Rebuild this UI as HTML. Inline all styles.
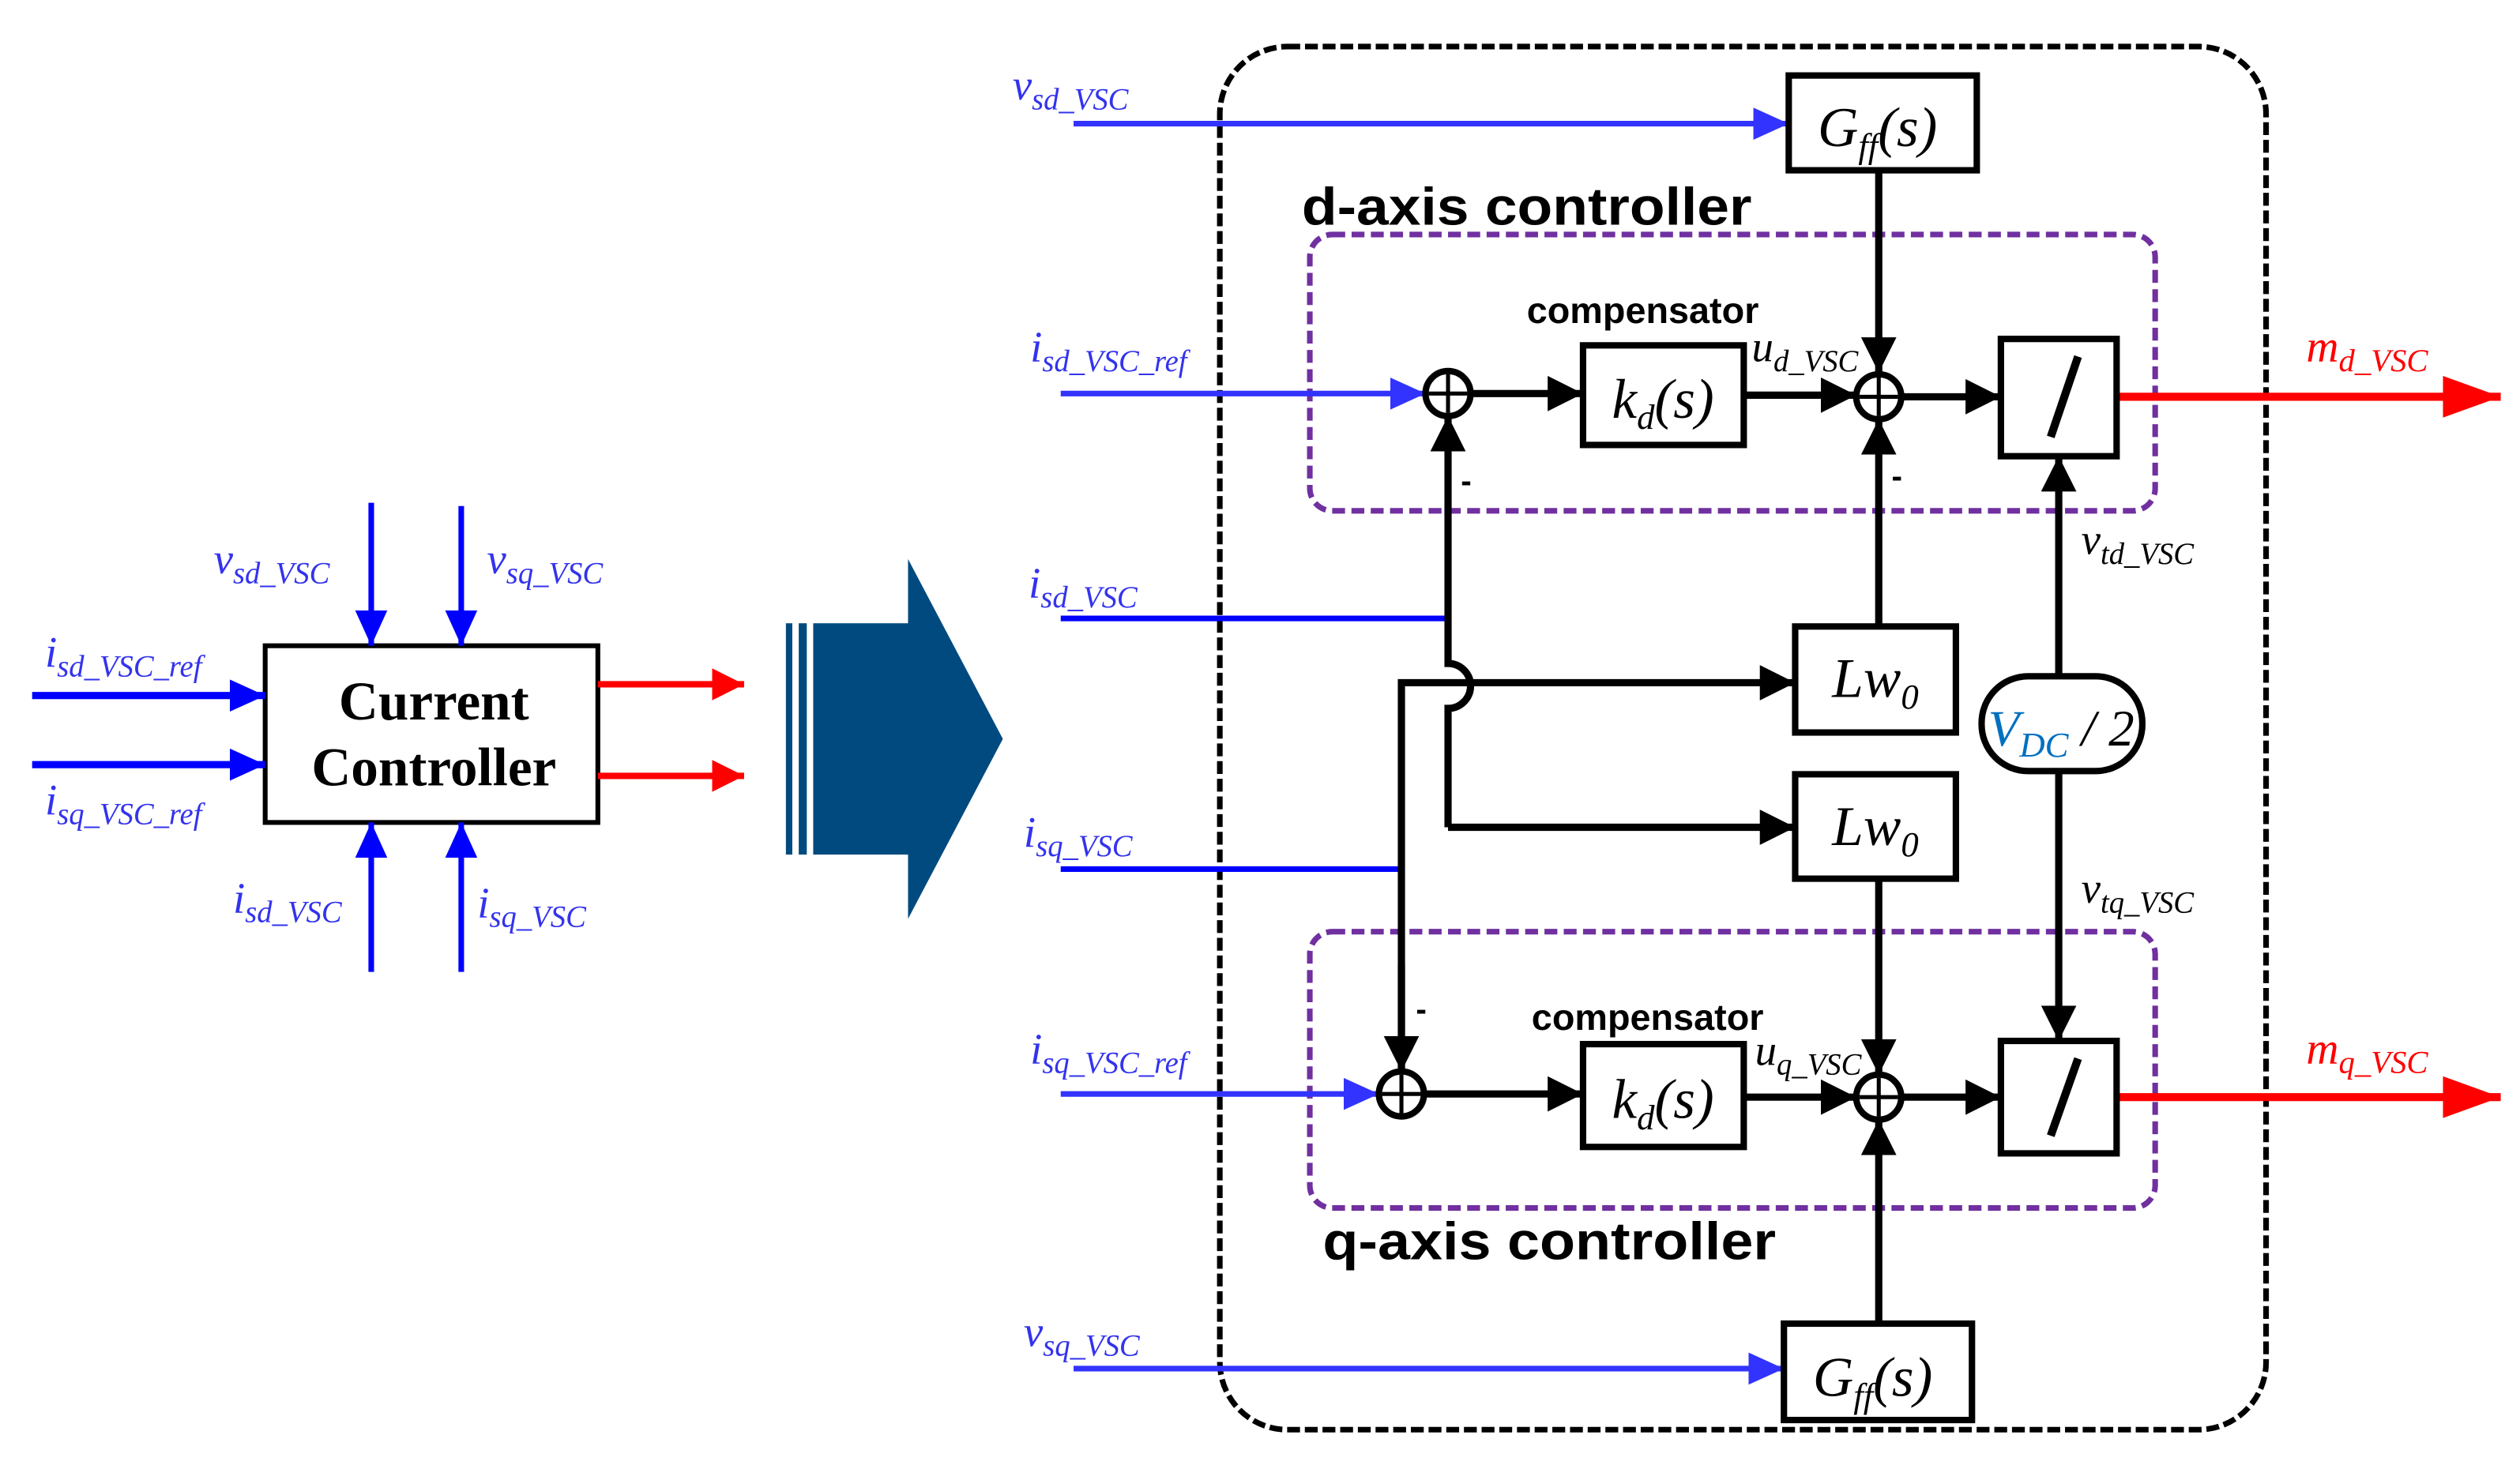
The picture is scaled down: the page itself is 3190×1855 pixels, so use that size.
<!DOCTYPE html>
<html><head><meta charset="utf-8"><style>
html,body{margin:0;padding:0;background:#fff;}
svg{display:block;}
.it{font-family:"Liberation Serif",serif;font-style:italic;}
.sans{font-family:"Liberation Sans","Noto Sans CJK KR",sans-serif;}
</style></head><body>
<svg width="3190" height="1855" viewBox="0 0 1568 912" preserveAspectRatio="none" xmlns="http://www.w3.org/2000/svg">
<defs>
<marker id="ak" markerUnits="userSpaceOnUse" markerWidth="24" markerHeight="24" refX="22" refY="11" orient="auto"><path d="M0,0 L22,11 L0,22 Z" fill="#000"/></marker>
<marker id="ab" markerUnits="userSpaceOnUse" markerWidth="24" markerHeight="24" refX="22" refY="10" orient="auto"><path d="M0,0 L22,10 L0,20 Z" fill="#3333ff"/></marker>
<marker id="ab2" markerUnits="userSpaceOnUse" markerWidth="24" markerHeight="24" refX="22" refY="10" orient="auto"><path d="M0,0 L22,10 L0,20 Z" fill="#0000ff"/></marker>
<marker id="ar" markerUnits="userSpaceOnUse" markerWidth="40" markerHeight="30" refX="36" refY="13" orient="auto"><path d="M0,0 L36,13 L0,26 Z" fill="#ff0000"/></marker>
<marker id="ar2" markerUnits="userSpaceOnUse" markerWidth="24" markerHeight="24" refX="20" refY="10" orient="auto"><path d="M0,0 L20,10 L0,20 Z" fill="#ff0000"/></marker>
</defs>

<!-- LEFT BLOCK -->
<rect x="165" y="402" width="207" height="110" fill="#fff" stroke="#000" stroke-width="3"/>
<text x="270" y="448" text-anchor="middle" font-family="Liberation Serif,serif" font-weight="bold" font-size="34">Current</text>
<text x="270" y="489" text-anchor="middle" font-family="Liberation Serif,serif" font-weight="bold" font-size="34">Controller</text>
<g stroke="#0000ff" stroke-width="3.5" fill="none">
<line x1="231" y1="313" x2="231" y2="402" marker-end="url(#ab2)"/>
<line x1="287" y1="315" x2="287" y2="402" marker-end="url(#ab2)"/>
<line x1="231" y1="605" x2="231" y2="512" marker-end="url(#ab2)"/>
<line x1="287" y1="605" x2="287" y2="512" marker-end="url(#ab2)"/>
<line x1="20" y1="433" x2="165" y2="433" marker-end="url(#ab2)" stroke-width="4.5"/>
<line x1="20" y1="476" x2="165" y2="476" marker-end="url(#ab2)" stroke-width="4.5"/>
</g>
<g stroke="#ff0000" stroke-width="4" fill="none">
<line x1="372" y1="426" x2="463" y2="426" marker-end="url(#ar2)"/>
<line x1="372" y1="483" x2="463" y2="483" marker-end="url(#ar2)"/>
</g>
<g class="it" fill="#3333ee">
<text x="133" y="357" font-size="27">v<tspan font-size="19" dy="6">sd_VSC</tspan></text>
<text x="303" y="357" font-size="27">v<tspan font-size="19" dy="6">sq_VSC</tspan></text>
<text x="28" y="415" font-size="27">i<tspan font-size="19" dy="6">sd_VSC_ref</tspan></text>
<text x="28" y="507" font-size="27">i<tspan font-size="19" dy="6">sq_VSC_ref</tspan></text>
<text x="145" y="568" font-size="27">i<tspan font-size="19" dy="6">sd_VSC</tspan></text>
<text x="297" y="571" font-size="27">i<tspan font-size="19" dy="6">sq_VSC</tspan></text>
</g>

<!-- BIG ARROW -->
<g fill="#004a7f">
<rect x="489" y="388" width="4" height="144"/>
<rect x="497" y="388" width="5" height="144"/>
<rect x="506" y="388" width="60" height="144"/>
<path d="M565,348 L624,460 L565,572 Z"/>
</g>

<!-- OUTER DASHED -->
<rect x="759" y="29" width="651" height="861" rx="42" fill="none" stroke="#000" stroke-width="3.5" stroke-dasharray="8,3"/>
<!-- PURPLE -->
<rect x="815" y="146" width="526" height="172" rx="14" fill="none" stroke="#7030a0" stroke-width="3.5" stroke-dasharray="8,4"/>
<rect x="815" y="580" width="526" height="172" rx="14" fill="none" stroke="#7030a0" stroke-width="3.5" stroke-dasharray="8,4"/>

<g class="sans" fill="#000">
<text x="810" y="140" font-size="33" font-weight="bold" textLength="280" lengthAdjust="spacingAndGlyphs">d-axis controller</text>
<text x="823" y="784" font-size="33" font-weight="bold" textLength="282" lengthAdjust="spacingAndGlyphs">q-axis controller</text>
<text x="950" y="201" font-size="23" font-weight="bold">compensator</text>
<text x="953" y="641" font-size="23" font-weight="bold">compensator</text>
<text x="909" y="306" font-size="20" font-weight="bold">-</text>
<text x="1177" y="303" font-size="20" font-weight="bold">-</text>
<text x="881" y="635" font-size="20" font-weight="bold">-</text>
</g>

<!-- blue inputs -->
<g stroke="#3333ff" stroke-width="3.5" fill="none">
<line x1="668" y1="77" x2="1113" y2="77" marker-end="url(#ab)"/>
<line x1="660" y1="245" x2="887" y2="245" marker-end="url(#ab)"/>
<line x1="660" y1="681" x2="858" y2="681" marker-end="url(#ab)"/>
<line x1="668" y1="852" x2="1110" y2="852" marker-end="url(#ab)"/>
</g>
<g stroke="#0000ff" stroke-width="3.5" fill="none">
<line x1="660" y1="385" x2="901" y2="385"/>
<line x1="660" y1="541" x2="872" y2="541"/>
</g>

<!-- black connectors -->
<g stroke="#000" stroke-width="4.5" fill="none">
<line x1="1169" y1="106" x2="1169" y2="232" marker-end="url(#ak)"/>
<line x1="915" y1="245" x2="985" y2="245" marker-end="url(#ak)"/>
<line x1="1085" y1="246" x2="1155" y2="246" marker-end="url(#ak)"/>
<line x1="1183" y1="247" x2="1245" y2="247" marker-end="url(#ak)"/>
<path d="M901,515 L901,441 A14,14 0 0 0 901,413 L901,259" marker-end="url(#ak)"/>
<line x1="901" y1="515" x2="1117" y2="515" marker-end="url(#ak)"/>
<line x1="1169" y1="390" x2="1169" y2="261" marker-end="url(#ak)"/>
<path d="M872,667 L872,425 L1117,425" marker-end="url(#ak)"/>
<line x1="872" y1="600" x2="872" y2="667" marker-end="url(#ak)"/>
<line x1="1169" y1="547" x2="1169" y2="669" marker-end="url(#ak)"/>
<line x1="1281" y1="421" x2="1281" y2="284" marker-end="url(#ak)"/>
<line x1="1281" y1="480" x2="1281" y2="648" marker-end="url(#ak)"/>
<line x1="886" y1="681" x2="985" y2="681" marker-end="url(#ak)"/>
<line x1="1085" y1="683" x2="1155" y2="683" marker-end="url(#ak)"/>
<line x1="1183" y1="683" x2="1245" y2="683" marker-end="url(#ak)"/>
<line x1="1169" y1="824" x2="1169" y2="697" marker-end="url(#ak)"/>
</g>
<!-- red outputs -->
<g stroke="#ff0000" stroke-width="5" fill="none">
<line x1="1317" y1="247" x2="1556" y2="247" marker-end="url(#ar)"/>
<line x1="1317" y1="683" x2="1556" y2="683" marker-end="url(#ar)"/>
</g>

<!-- boxes -->
<g fill="#fff" stroke="#000" stroke-width="4">
<rect x="1113" y="47" width="117" height="59"/>
<rect x="985" y="215" width="100" height="62"/>
<rect x="1245" y="211" width="72" height="73"/>
<rect x="1117" y="390" width="100" height="66"/>
<rect x="1117" y="482" width="100" height="65"/>
<rect x="1233" y="421" width="100" height="59" rx="29"/>
<rect x="985" y="650" width="100" height="64"/>
<rect x="1245" y="648" width="72" height="70"/>
<rect x="1110" y="824" width="117" height="60"/>
<circle cx="901" cy="245" r="14"/>
<circle cx="1169" cy="247" r="14"/>
<circle cx="872" cy="681" r="14"/>
<circle cx="1169" cy="683" r="14"/>
</g>
<g stroke="#000" stroke-width="2.5">
<path d="M889,245 H913 M901,233 V257"/>
<path d="M1157,247 H1181 M1169,235 V259"/>
<path d="M860,681 H884 M872,669 V693"/>
<path d="M1157,683 H1181 M1169,671 V695"/>
</g>
<g stroke="#000" stroke-width="5">
<line x1="1293" y1="222" x2="1276" y2="272"/>
<line x1="1293" y1="659" x2="1276" y2="707"/>
</g>

<g class="it" fill="#000">
<text x="1131" y="91" font-size="35">G<tspan font-size="22" dy="7">ff</tspan><tspan dy="-7">(s)</tspan></text>
<text x="1128" y="869" font-size="35">G<tspan font-size="22" dy="7">ff</tspan><tspan dy="-7">(s)</tspan></text>
<text x="1003" y="260" font-size="35">k<tspan font-size="22" dy="7">d</tspan><tspan dy="-7">(s)</tspan></text>
<text x="1003" y="696" font-size="35">k<tspan font-size="22" dy="7">d</tspan><tspan dy="-7">(s)</tspan></text>
<text x="1140" y="434" font-size="35">Lw<tspan font-size="22" dy="7">0</tspan></text>
<text x="1140" y="526" font-size="35">Lw<tspan font-size="22" dy="7">0</tspan></text>
<text x="1237" y="464" font-size="32"><tspan fill="#0070c0">V</tspan><tspan fill="#0070c0" font-size="22" dy="7">DC</tspan><tspan dy="-7"> / 2</tspan></text>
<text x="1090" y="225" font-size="27">u<tspan font-size="19" dy="6">d_VSC</tspan></text>
<text x="1092" y="663" font-size="27">u<tspan font-size="19" dy="6">q_VSC</tspan></text>
<text x="1295" y="345" font-size="27">v<tspan font-size="19" dy="6">td_VSC</tspan></text>
<text x="1295" y="562" font-size="27">v<tspan font-size="19" dy="6">tq_VSC</tspan></text>
</g>
<g class="it" fill="#3333ee">
<text x="630" y="62" font-size="27">v<tspan font-size="19" dy="6">sd_VSC</tspan></text>
<text x="641" y="225" font-size="27">i<tspan font-size="19" dy="6">sd_VSC_ref</tspan></text>
<text x="640" y="372" font-size="27">i<tspan font-size="19" dy="6">sd_VSC</tspan></text>
<text x="637" y="527" font-size="27">i<tspan font-size="19" dy="6">sq_VSC</tspan></text>
<text x="641" y="662" font-size="27">i<tspan font-size="19" dy="6">sq_VSC_ref</tspan></text>
<text x="637" y="838" font-size="27">v<tspan font-size="19" dy="6">sq_VSC</tspan></text>
</g>
<g class="it" fill="#ff0000">
<text x="1435" y="225" font-size="28">m<tspan font-size="20" dy="6">d_VSC</tspan></text>
<text x="1435" y="662" font-size="28">m<tspan font-size="20" dy="6">q_VSC</tspan></text>
</g>
</svg>
</body></html>
